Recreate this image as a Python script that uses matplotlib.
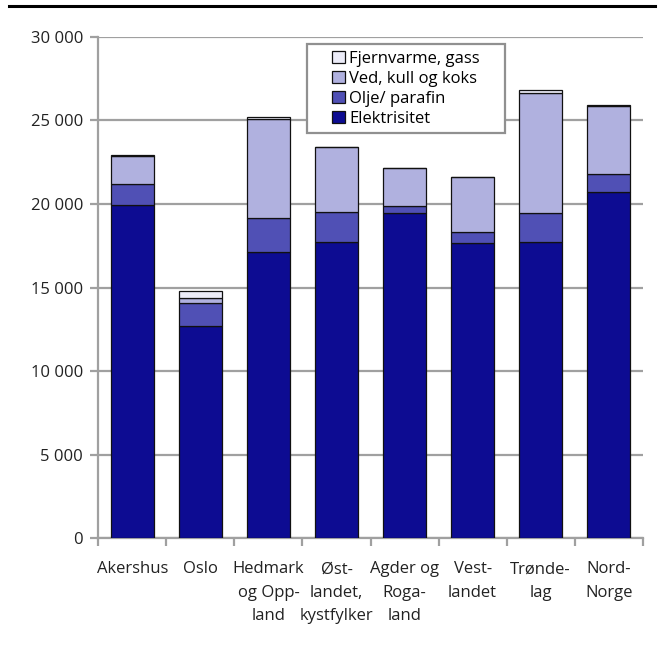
import matplotlib
matplotlib.use("Agg")
import matplotlib.pyplot as plt
import numpy as np
from matplotlib.lines import Line2D
from matplotlib.patches import Rectangle
from matplotlib.ticker import FuncFormatter, MultipleLocator

plt.rcParams['font.family'] = ['Open Sans', 'DejaVu Sans']

regions = ["Akershus", "Oslo", "Hedmark\nog Opp-\nland", "Øst-\nlandet,\nkystfylker",
           "Agder og\nRoga-\nland", "Vest-\nlandet", "Trønde-\nlag", "Nord-\nNorge"]
elektrisitet = [19950, 12680, 17150, 17750, 19480, 17650, 17700, 20700]
olje_parafin = [1250, 1410, 1990, 1750, 400, 650, 1780, 1080]
ved_kull_koks = [1700, 300, 5950, 3900, 2250, 3300, 7150, 4100]
fjernvarme_gass = [30, 380, 90, 40, 20, 30, 170, 30]

series = [
    ("Elektrisitet", elektrisitet, "#0d0c92"),
    ("Olje/ parafin", olje_parafin, "#5050b5"),
    ("Ved, kull og koks", ved_kull_koks, "#b0b1df"),
    ("Fjernvarme, gass", fjernvarme_gass, "#ececf8"),
]

FS = 12

fig = plt.figure(figsize=(6.64, 6.47), dpi=100)
ax = fig.add_axes([0.148, 0.168, 0.820, 0.775])

x = np.arange(len(regions))
bottom = np.zeros(len(regions))
handles = []
for name, vals, col in series:
    b = ax.bar(x, vals, width=0.63, bottom=bottom, color=col,
               edgecolor="#111111", linewidth=0.9, label=name, zorder=3)
    handles.append(b)
    bottom += np.array(vals)

ax.set_xlim(-0.5, len(regions) - 0.5)
ax.set_ylim(0, 30000)
ax.yaxis.set_major_locator(MultipleLocator(5000))
ax.yaxis.set_major_formatter(FuncFormatter(lambda v, p: f"{int(v):,}".replace(",", " ")))
ax.grid(axis="y", color="#a0a0a0", linewidth=1.6, zorder=0)

for s in ["top", "right"]:
    ax.spines[s].set_visible(False)
for s in ["left", "bottom"]:
    ax.spines[s].set_color("#a0a0a0")
    ax.spines[s].set_linewidth(1.6)

ax.set_xticks(x)
ax.set_xticklabels(regions, fontsize=FS, color="#222222", linespacing=1.62, va="top")
ax.set_xticks(np.arange(-0.5, len(regions) + 0.5, 1), minor=True)
ax.tick_params(axis="x", which="major", length=0, pad=16.5)
ax.tick_params(axis="x", which="minor", length=6, width=1.6, color="#a0a0a0", direction="out")
ax.tick_params(axis="y", length=6, width=1.6, color="#a0a0a0", direction="out",
               labelsize=FS, labelcolor="#222222", pad=5)

# legend box with generous padding, drawn separately from the legend entries
box = Rectangle((0.383, 0.8085), 0.364, 0.1775, transform=ax.transAxes,
                facecolor="white", edgecolor="#909090", linewidth=1.6, zorder=5)
ax.add_patch(box)

leg = ax.legend(handles[::-1], [h.get_label() for h in handles[::-1]],
                loc="upper left", bbox_to_anchor=(0.429, 0.972), fontsize=FS,
                frameon=False, handlelength=0.78, handleheight=0.78, handletextpad=0.25,
                labelspacing=0.23, borderpad=0, borderaxespad=0)
leg.set_zorder(6)

fig.add_artist(Line2D([0.014, 0.986], [0.991, 0.991], color="black", linewidth=2.2,
                      transform=fig.transFigure))

fig.savefig("out.png", dpi=100)
